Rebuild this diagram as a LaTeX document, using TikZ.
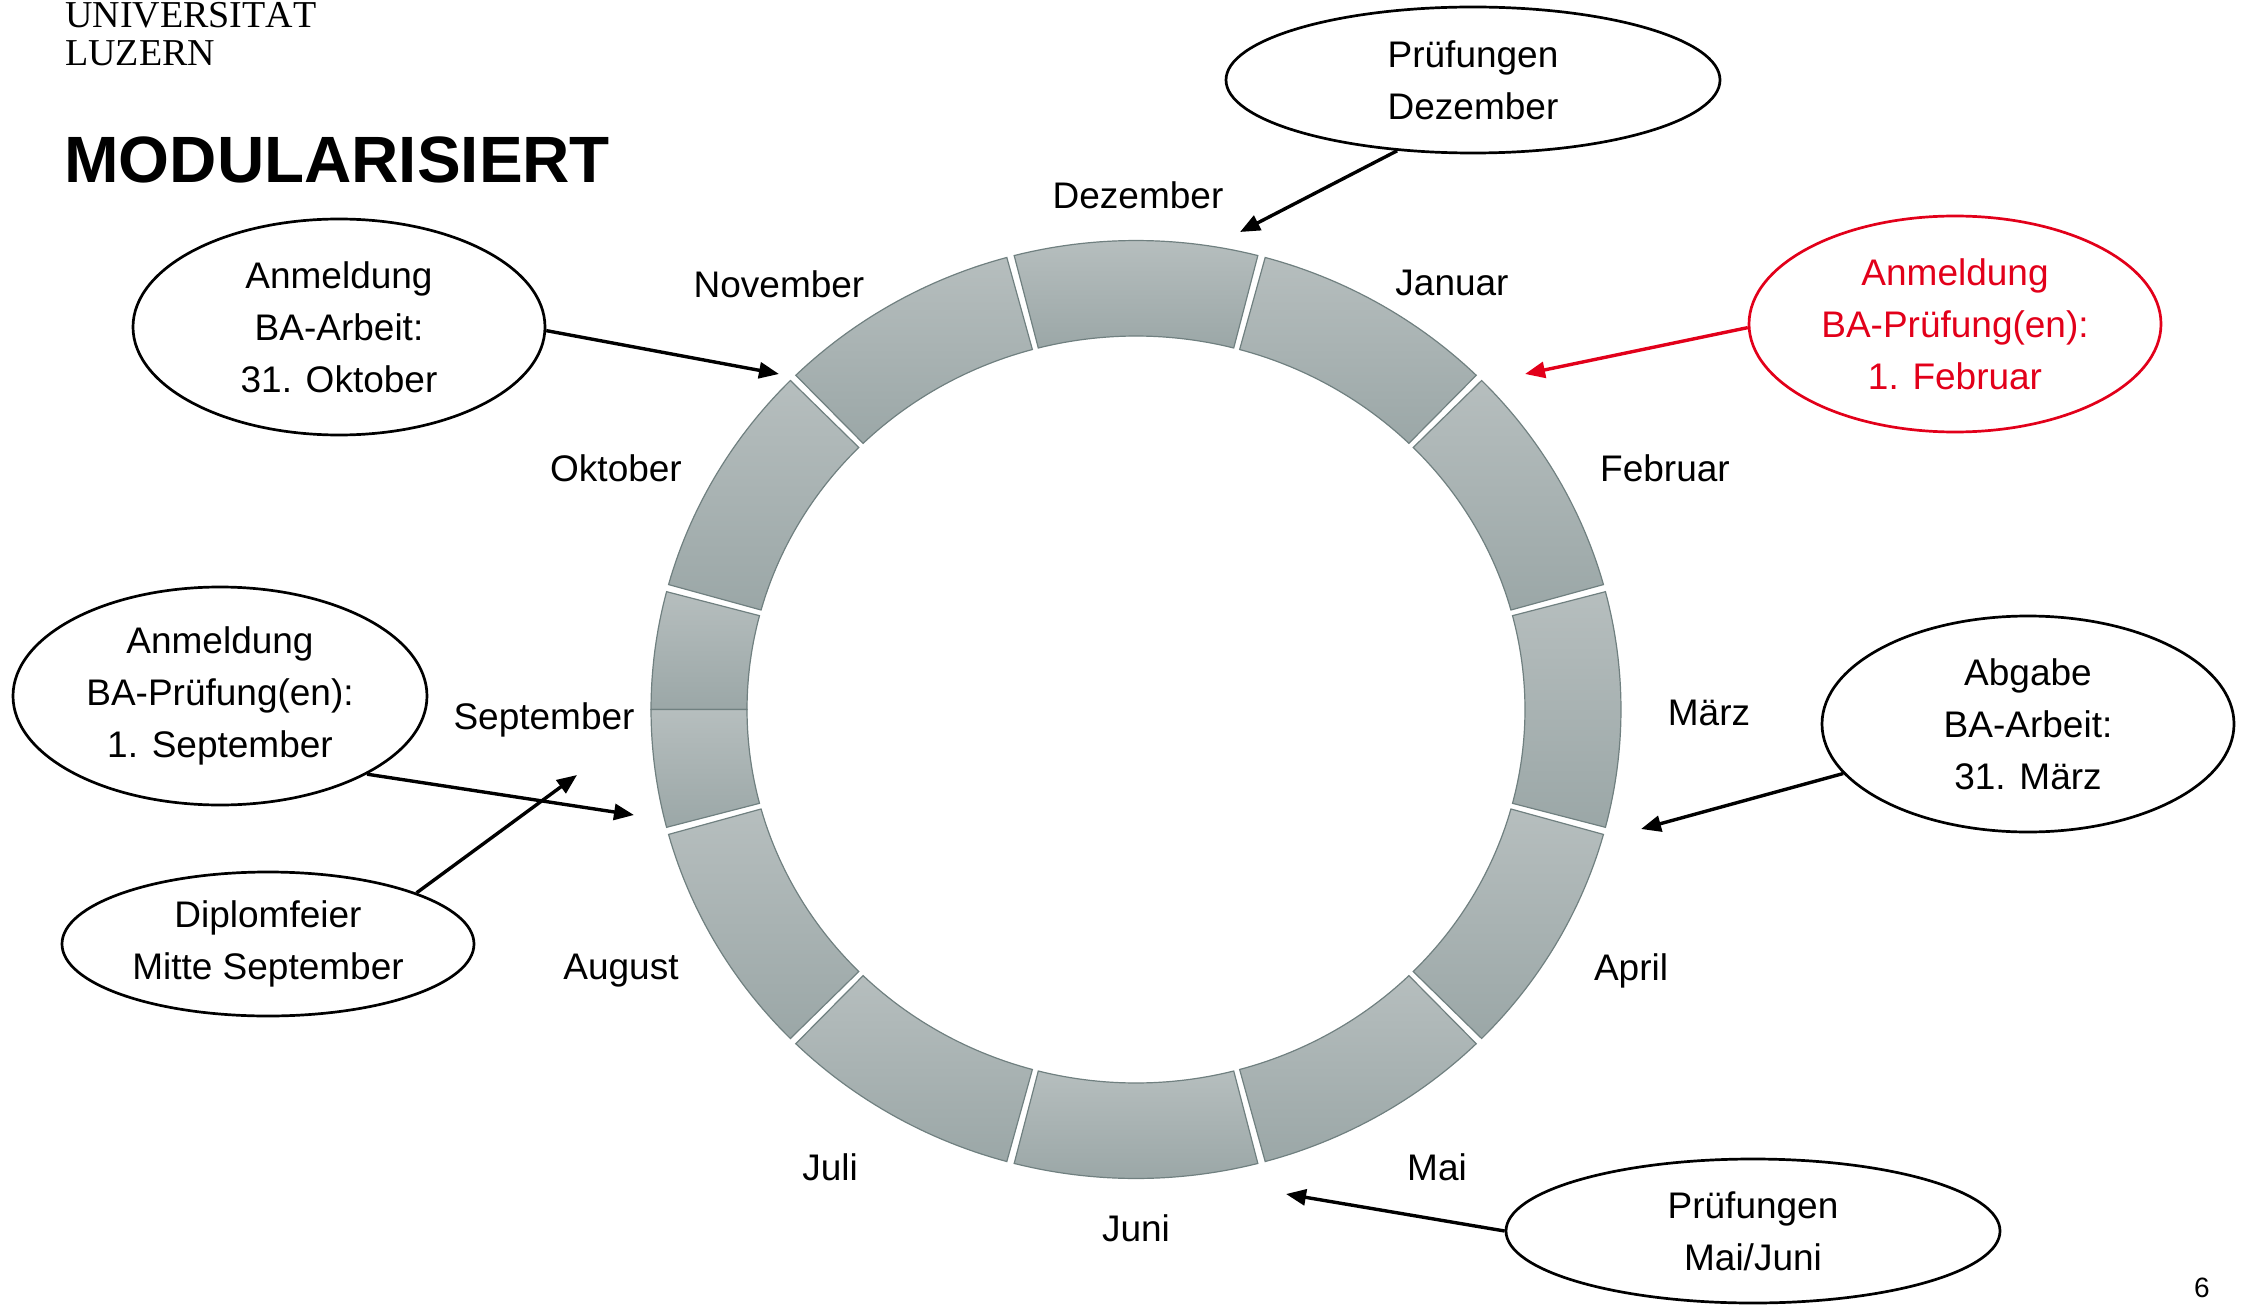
\documentclass[tikz,border=0pt]{standalone}
\usepackage{fontspec}
\setmainfont{Liberation Sans}
\newfontfamily\unifont{Liberation Serif}
\usetikzlibrary{shapes.geometric,arrows.meta}
\definecolor{lured}{RGB}{226,0,26}
\definecolor{segtop}{RGB}{182,190,190}
\definecolor{segbot}{RGB}{155,167,167}
\definecolor{segline}{RGB}{112,128,128}
\begin{document}
\begin{tikzpicture}[x=1pt,y=-1pt,
  month/.style={font=\fontsize{37}{44}\selectfont, inner sep=0pt},
  bubble/.style={ellipse, draw=black, line width=2.7pt, inner sep=0pt, align=center, font=\fontsize{37}{52}\selectfont},
  conn/.style={line width=3.4pt, -{Triangle[length=20pt,width=16pt]}},
  segment/.style={top color=segtop, bottom color=segbot, draw=segline, line width=1.2pt}]
\useasboundingbox (0,0) rectangle (2245,1305);

% header
\node[anchor=base west, inner sep=0pt, font=\unifont\fontsize{38}{40}\selectfont] (uni1) at (65,28) {UNIVERSITÄT};
\node[anchor=base west, inner sep=0pt, font=\unifont\fontsize{38}{40}\selectfont] (uni2) at (65,66) {LUZERN};
\node[anchor=base west, inner sep=0pt, font=\bfseries\fontsize{65.5}{70}\selectfont] (title) at (64,183) {MODULARISIERT};

% ring segments
\foreach \c in {90,60,30,0,-30,-60,-90,-120,-150,150,120} {
  \pgfmathsetmacro\sa{\c-15+0.45}
  \pgfmathsetmacro\sb{\c+15-0.45}
  \path[segment] plot[domain=\sa:\sb,samples=30] ({1136+485*cos(\x)},{709.5-469*sin(\x)})
     -- plot[domain=\sb:\sa,samples=30] ({1136+389*cos(\x)},{709.5-373.5*sin(\x)}) -- cycle;
}
\path[segment] plot[domain=165.45:180,samples=20] ({1136+485*cos(\x)},{709.5-469*sin(\x)})
     -- plot[domain=180:165.45,samples=20] ({1136+389*cos(\x)},{709.5-373.5*sin(\x)}) -- cycle;
\path[segment] plot[domain=180:194.55,samples=20] ({1136+485*cos(\x)},{709.5-469*sin(\x)})
     -- plot[domain=194.55:180,samples=20] ({1136+389*cos(\x)},{709.5-373.5*sin(\x)}) -- cycle;

% month labels
\node[month] (m12) at (1138,195) {Dezember};
\node[month] (m1) at (1452,283) {Januar};
\node[month] (m2) at (1665,468) {Februar};
\node[month] (m3) at (1709,713) {März};
\node[month] (m4) at (1631,971) {April};
\node[month] (m5) at (1437,1167) {Mai};
\node[month] (m6) at (1136,1228) {Juni};
\node[month] (m7) at (830,1167) {Juli};
\node[month] (m8) at (621,971) {August};
\node[month] (m9) at (544,720) {September};
\node[month] (m10) at (616,468) {Oktober};
\node[month] (m11) at (779,284) {November};

% bubbles
\node[bubble, minimum width=494pt, minimum height=146pt] (e1) at (1473,80) {Prüfungen\\Dezember};
\node[bubble, minimum width=412pt, minimum height=216pt] (e2) at (339,327) {Anmeldung\\BA-Arbeit:\\31. Oktober};
\node[bubble, draw=lured, text=lured, minimum width=412pt, minimum height=216pt] (e3) at (1955,324) {Anmeldung\\BA-Prüfung(en):\\1. Februar};
\node[bubble, minimum width=414pt, minimum height=218pt] (e4) at (220,696) {Anmeldung\\BA-Prüfung(en):\\1. September};
\node[bubble, minimum width=412pt, minimum height=216pt] (e5) at (2028,724) {Abgabe\\BA-Arbeit:\\31. März};
\node[bubble, minimum width=412pt, minimum height=144pt] (e6) at (268,944) {Diplomfeier\\Mitte September};
\node[bubble, minimum width=494pt, minimum height=144pt] (e7) at (1753,1231) {Prüfungen\\Mai/Juni};

% arrow targets
\coordinate (t1) at (1240,232);
\coordinate (t2) at (779,374);
\coordinate (t3) at (1525,374);
\coordinate (t4) at (634,815);
\coordinate (t5) at (1641,829);
\coordinate (t6) at (577,775);
\coordinate (t7) at (1286,1194);

\draw[conn] (e1.223) -- (t1);
\draw[conn] (e2.-1) -- (t2);
\draw[conn, color=lured] (e3.181) -- (t3);
\draw[conn] (e4.-28) -- (t4);
\draw[conn] (e5.195.4) -- (t5);
\draw[conn] (e6.19.5) -- (t6);
\draw[conn] (e7.180) -- (t7);

\node[font=\fontsize{28}{30}\selectfont, inner sep=0pt] (pg) at (2202,1288) {6};
\end{tikzpicture}
\end{document}
